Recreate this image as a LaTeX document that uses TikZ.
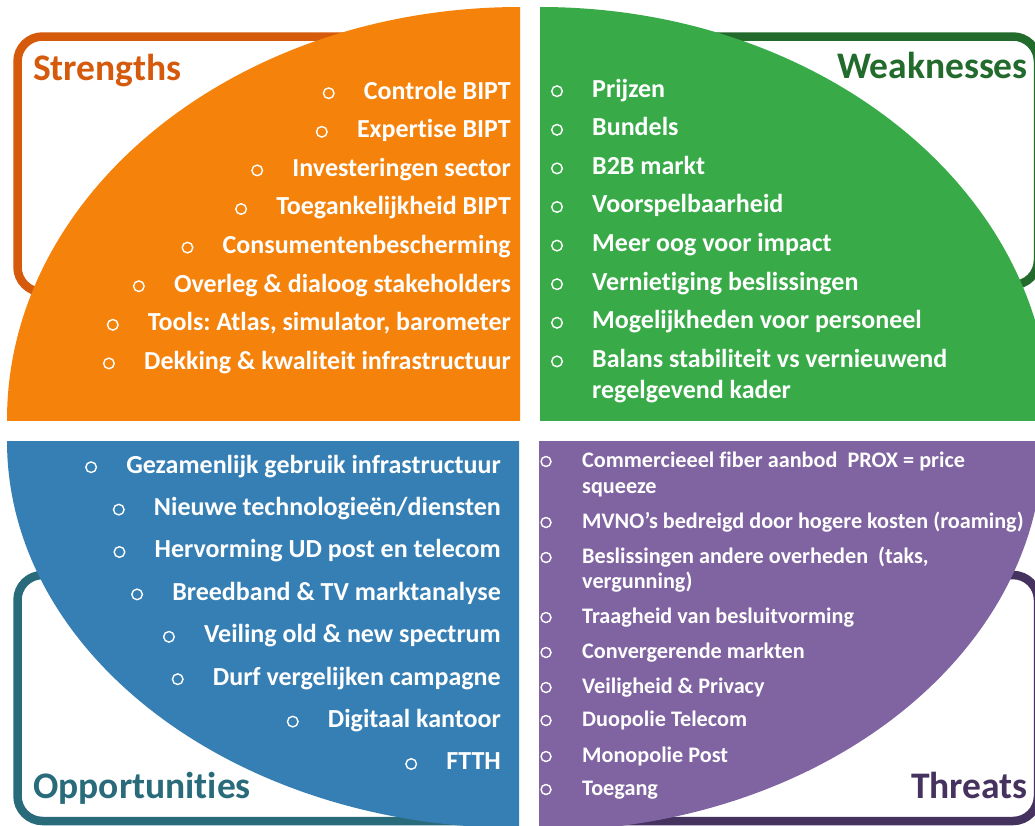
\documentclass[tikz,border=0pt]{standalone}
\usepackage{fontspec}
\setmainfont{Carlito}[Ligatures=CommonOff]
\frenchspacing
\definecolor{orangeF}{HTML}{F5820B}
\definecolor{orangeD}{HTML}{D55A0C}
\definecolor{greenF}{HTML}{38AB48}
\definecolor{greenD}{HTML}{226B2C}
\definecolor{blueF}{HTML}{367FB4}
\definecolor{tealD}{HTML}{2A6B7B}
\definecolor{purpleF}{HTML}{8064A2}
\definecolor{purpleD}{HTML}{46325F}
\newcommand{\ritem}[4]{\node[itm, anchor=base east] (#1) at (#2,#3) {#4};
  \draw[bul] ([shift={(-35,-5.8)}]#1.base west) circle[radius=5.3];}
\newcommand{\litem}[4]{\node[itm, anchor=base west] (#1) at (#2,#3) {#4};
  \draw[bul] ([shift={(-35,-5.8)}]#1.base west) circle[radius=5.3];}
\newcommand{\titem}[4]{\node[thr, anchor=base west] (#1) at (#2,#3) {#4};
  \draw[bul] ([shift={(-36,-5.5)}]#1.base west) circle[radius=5];}
\begin{document}
\begin{tikzpicture}[x=1pt,y=-1pt,
  itm/.style={inner sep=0pt, text=white, font=\fontsize{26}{31}\selectfont\bfseries\frenchspacing},
  thr/.style={inner sep=0pt, text=white, font=\fontsize{22.2}{26}\selectfont\bfseries\frenchspacing},
  bul/.style={draw=white, line width=1.4pt},
  brk/.style={line width=8.5pt, rounded corners=25pt},
  head/.style={inner sep=0pt, font=\fontsize{37.5}{40}\selectfont\bfseries}]
\useasboundingbox (0,0) rectangle (1035,825);
\clip (0,0) rectangle (1035,825);
\fill[white] (0,0) rectangle (1035,825);
% brackets
\draw[brk, draw=orangeD] (17.5,36.5) rectangle (500,292);
\draw[brk, draw=greenD] (600,36.5) rectangle (1038,285);
\draw[brk, draw=tealD] (17.5,575) rectangle (500,821);
\draw[brk, draw=purpleD] (560,575) rectangle (1038,821);
% quadrants
\begin{scope}
  \clip (7,7) rectangle (520,420);
  \fill[orangeF] (520,420) ellipse [x radius=513, y radius=413];
\end{scope}
\begin{scope}
  \clip (540,7) rectangle (1060,420);
  \fill[greenF] (540,420) ellipse [x radius=510, y radius=413];
\end{scope}
\begin{scope}
  \clip (7,441) rectangle (519,840);
  \fill[blueF] (519,441) ellipse [x radius=512, y radius=387];
\end{scope}
\begin{scope}
  \clip (539,441) rectangle (1060,840);
  \fill[purpleF] (539,441) ellipse [x radius=504, y radius=390];
\end{scope}
% headings
\node[head, text=orangeD, anchor=base west] (hs) at (33,80) {Strengths};
\node[head, text=greenD, anchor=base east] (hw) at (1028,78) {Weaknesses};
\node[head, text=tealD, anchor=base west] (ho) at (33,798) {Opportunities};
\node[head, text=purpleD, anchor=base east] (ht) at (1028,798) {Threats};
% strengths
\ritem{s1}{511}{99}{Controle BIPT}
\ritem{s2}{511}{137.6}{Expertise BIPT}
\ritem{s3}{511}{176.2}{Investeringen sector}
\ritem{s4}{511}{214.8}{Toegankelijkheid BIPT}
\ritem{s5}{511}{253.4}{Consumentenbescherming}
\ritem{s6}{511}{292}{Overleg \& dialoog stakeholders}
\ritem{s7}{511}{330.6}{Tools: Atlas, simulator, barometer}
\ritem{s8}{511}{369.2}{Dekking \& kwaliteit infrastructuur}
% weaknesses
\litem{w1}{592}{97}{Prijzen}
\litem{w2}{592}{135.6}{Bundels}
\litem{w3}{592}{174.2}{B2B markt}
\litem{w4}{592}{212.8}{Voorspelbaarheid}
\litem{w5}{592}{251.4}{Meer oog voor impact}
\litem{w6}{592}{290}{Vernietiging beslissingen}
\litem{w7}{592}{328.6}{Mogelijkheden voor personeel}
\litem{w8}{592}{367.2}{Balans stabiliteit vs vernieuwend}
\node[itm, anchor=base west] (w8b) at (592,398) {regelgevend kader};
% opportunities
\ritem{o1}{501}{473}{Gezamenlijk gebruik infrastructuur}
\ritem{o2}{501}{515.4}{Nieuwe technologieën/diensten}
\ritem{o3}{501}{557.8}{Hervorming UD post en telecom}
\ritem{o4}{501}{600.2}{Breedband \& TV marktanalyse}
\ritem{o5}{501}{642.6}{Veiling old \& new spectrum}
\ritem{o6}{501}{685}{Durf vergelijken campagne}
\ritem{o7}{501}{727.4}{Digitaal kantoor}
\ritem{o8}{501}{769.8}{FTTH}
% threats
\titem{t1}{582}{467}{Commercieeel fiber aanbod\ \ PROX = price}
\node[thr, anchor=base west] (t1b) at (582,493) {squeeze};
\titem{t2}{582}{528}{MVNO’s bedreigd door hogere kosten (roaming)}
\titem{t3}{582}{563}{Beslissingen andere overheden\ \ (taks,}
\node[thr, anchor=base west] (t3b) at (582,588) {vergunning)};
\titem{t4}{582}{623}{Traagheid van besluitvorming}
\titem{t5}{582}{658}{Convergerende markten}
\titem{t6}{582}{693}{Veiligheid \& Privacy}
\titem{t7}{582}{726}{Duopolie Telecom}
\titem{t8}{582}{762}{Monopolie Post}
\titem{t9}{582}{795}{Toegang}
\end{tikzpicture}
\end{document}
